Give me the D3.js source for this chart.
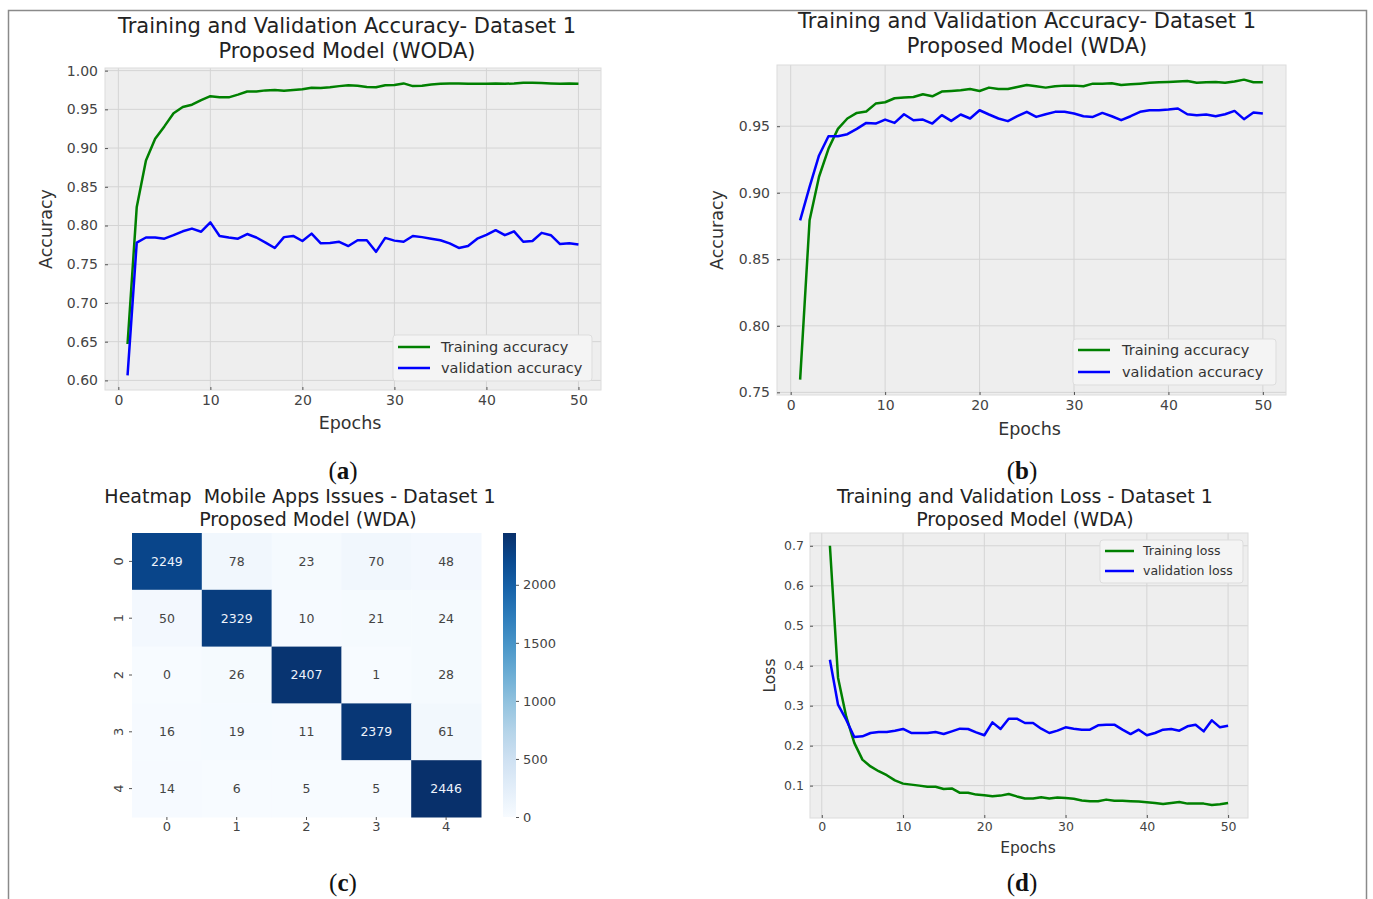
<!DOCTYPE html>
<html>
<head>
<meta charset="utf-8">
<script src="https://cdn.jsdelivr.net/npm/d3@7"></script>
<style>
  body { margin: 0; background: #fff; }
  text { font-family: 'DejaVu Sans', sans-serif; }
</style>
</head>
<body>
<svg id="chart" width="1373" height="899"></svg>
<script>
// epochs 1..50
const epochs = d3.range(1, 51)

// (a) Dataset 1, without data augmentation
const trainAccWoda = [0.647, 0.824, 0.884, 0.912, 0.928, 0.945, 0.953, 0.956, 0.962, 0.967,
  0.9655, 0.9655, 0.969, 0.973, 0.973, 0.9745, 0.975, 0.974, 0.975, 0.976,
  0.978, 0.9775, 0.9785, 0.98, 0.981, 0.9805, 0.979, 0.9785, 0.981, 0.9815,
  0.9835, 0.98, 0.9805, 0.982, 0.983, 0.9835, 0.9835, 0.983, 0.983, 0.983,
  0.9835, 0.983, 0.9835, 0.9845, 0.9845, 0.984, 0.9835, 0.983, 0.9835, 0.983]
const valAccWoda = [0.6065, 0.778, 0.7845, 0.7845, 0.783, 0.7875, 0.7925, 0.796, 0.792, 0.804,
  0.7865, 0.7845, 0.783, 0.789, 0.7845, 0.778, 0.771, 0.785, 0.7865, 0.780,
  0.7895, 0.777, 0.7775, 0.779, 0.7735, 0.781, 0.781, 0.766, 0.784, 0.7805,
  0.779, 0.7865, 0.785, 0.783, 0.781, 0.777, 0.771, 0.7735, 0.783, 0.788,
  0.794, 0.7875, 0.7925, 0.779, 0.780, 0.7905, 0.7875, 0.776, 0.777, 0.7755]

// (b) Dataset 1, with data augmentation
const trainAccWda = [0.7595, 0.8793, 0.912, 0.933, 0.948, 0.9558, 0.960, 0.961, 0.967, 0.968,
  0.971, 0.9715, 0.972, 0.974, 0.9725, 0.976, 0.9765, 0.977, 0.978, 0.9765,
  0.979, 0.978, 0.978, 0.9795, 0.981, 0.980, 0.979, 0.980, 0.9805, 0.9805,
  0.980, 0.982, 0.982, 0.9823, 0.981, 0.9815, 0.982, 0.9826, 0.983, 0.9833,
  0.9836, 0.984, 0.9826, 0.983, 0.9833, 0.9826, 0.9836, 0.985, 0.983, 0.983]
const valAccWda = [0.8793, 0.9044, 0.928, 0.9425, 0.9425, 0.944, 0.948, 0.9525, 0.952, 0.955,
  0.9525, 0.959, 0.9545, 0.955, 0.952, 0.9583, 0.954, 0.9588, 0.9558, 0.962,
  0.9588, 0.9558, 0.9538, 0.9575, 0.9608, 0.957, 0.959, 0.9608, 0.9608, 0.9595,
  0.9575, 0.957, 0.960, 0.9575, 0.9545, 0.9575, 0.9608, 0.962, 0.962, 0.9625,
  0.9633, 0.959, 0.9583, 0.9588, 0.9575, 0.959, 0.9615, 0.9553, 0.9603, 0.9595]

// (d) loss, with data augmentation
const trainLossWda = [0.70, 0.37, 0.273, 0.207, 0.165, 0.148, 0.136, 0.126, 0.113, 0.105,
  0.1025, 0.10, 0.097, 0.097, 0.0917, 0.093, 0.082, 0.082, 0.0775, 0.076,
  0.0733, 0.075, 0.079, 0.073, 0.068, 0.068, 0.071, 0.068, 0.070, 0.069,
  0.067, 0.063, 0.061, 0.061, 0.065, 0.062, 0.062, 0.061, 0.060, 0.0583,
  0.0567, 0.054, 0.0567, 0.059, 0.055, 0.055, 0.055, 0.0517, 0.0533, 0.0567]
const valLossWda = [0.415, 0.3025, 0.265, 0.2217, 0.2233, 0.2317, 0.234, 0.234, 0.2375, 0.2417,
  0.2317, 0.2317, 0.2317, 0.234, 0.229, 0.2358, 0.2425, 0.2417, 0.2333, 0.226,
  0.2583, 0.2417, 0.2675, 0.2675, 0.2567, 0.2567, 0.2425, 0.2317, 0.2375, 0.2458,
  0.2425, 0.24, 0.24, 0.2508, 0.2525, 0.2525, 0.24, 0.229, 0.24, 0.226,
  0.2317, 0.24, 0.2417, 0.2375, 0.2483, 0.2525, 0.2358, 0.2633, 0.2458, 0.250]

// (c) confusion matrix
const classes = ['0', '1', '2', '3', '4']
const confusion = [
  [2249, 78, 23, 70, 48],
  [50, 2329, 10, 21, 24],
  [0, 26, 2407, 1, 28],
  [16, 19, 11, 2379, 61],
  [14, 6, 5, 5, 2446]
]
const colorbarTicks = [0, 500, 1000, 1500, 2000]

const xTicks = [0, 10, 20, 30, 40, 50]

let svg = d3.select('#chart')
svg.append('rect').attr('width', 1373).attr('height', 899).attr('fill', '#fff')

// page frame
svg.append('path')
  .attr('d', 'M8.5,899V10.5H1366.5V899')
  .attr('fill', 'none')
  .attr('stroke', '#8a8a8a')
  .attr('stroke-width', 1.5)

function linePanel (o) {
  let g = svg.append('g')
  let x = d3.scaleLinear().domain([-1.45, 52.45]).range([o.left, o.right])
  let y = d3.scaleLinear().domain(o.yDomain).range([o.bottom, o.top])

  g.append('rect')
    .attr('x', o.left).attr('y', o.top)
    .attr('width', o.right - o.left).attr('height', o.bottom - o.top)
    .attr('fill', '#eeeeee')

  // grid
  g.selectAll('.gx').data(xTicks).join('line')
    .attr('x1', d => x(d)).attr('x2', d => x(d))
    .attr('y1', o.top).attr('y2', o.bottom)
    .attr('stroke', '#d4d4d4').attr('stroke-width', 1)
  g.selectAll('.gy').data(o.yTicks).join('line')
    .attr('x1', o.left).attr('x2', o.right)
    .attr('y1', d => y(d)).attr('y2', d => y(d))
    .attr('stroke', '#d4d4d4').attr('stroke-width', 1)

  g.append('rect')
    .attr('x', o.left).attr('y', o.top)
    .attr('width', o.right - o.left).attr('height', o.bottom - o.top)
    .attr('fill', 'none').attr('stroke', '#dcdcdc')

  let xAxis = g.append('g')
    .attr('transform', 'translate(0,' + o.bottom + ')')
    .call(d3.axisBottom(x).tickValues(xTicks).tickSize(-3).tickPadding(o.xPad))
  let yAxis = g.append('g')
    .attr('transform', 'translate(' + o.left + ',0)')
    .call(d3.axisLeft(y).tickValues(o.yTicks).tickFormat(d3.format(o.yFormat)).tickSize(-3).tickPadding(o.yPad))
  for (let ax of [xAxis, yAxis]) {
    ax.select('.domain').remove()
    ax.selectAll('line').attr('stroke', '#555')
    ax.selectAll('text')
      .attr('fill', '#444')
      .style('font-family', 'DejaVu Sans')
      .style('font-size', o.tickSize + 'px')
  }

  let line = d3.line().x((d, i) => x(epochs[i])).y(d => y(d))
  g.append('path').datum(o.train).attr('d', line)
    .attr('fill', 'none').attr('stroke', '#008000').attr('stroke-width', 2.5)
    .attr('stroke-linejoin', 'round')
  g.append('path').datum(o.val).attr('d', line)
    .attr('fill', 'none').attr('stroke', '#0000ff').attr('stroke-width', 2.5)
    .attr('stroke-linejoin', 'round')

  // legend
  let lg = o.legend
  g.append('rect')
    .attr('x', lg.x).attr('y', lg.y).attr('width', lg.w).attr('height', lg.h)
    .attr('rx', 3)
    .attr('fill', '#f4f4f4').attr('stroke', '#dddddd')
  let items = [{name: lg.names[0], color: '#008000'}, {name: lg.names[1], color: '#0000ff'}]
  items.forEach(function (it, i) {
    let cy = lg.y + lg.first + i * lg.step
    g.append('line')
      .attr('x1', lg.x + 5).attr('x2', lg.x + 5 + lg.len)
      .attr('y1', cy).attr('y2', cy)
      .attr('stroke', it.color).attr('stroke-width', 2.5)
    g.append('text')
      .attr('x', lg.x + lg.textX).attr('y', cy)
      .attr('dy', '0.35em')
      .attr('fill', '#333')
      .style('font-size', lg.font + 'px')
      .text(it.name)
  })

  // labels
  g.append('text')
    .attr('x', (o.left + o.right) / 2 + o.xLabelShift).attr('y', o.xLabelY)
    .attr('text-anchor', 'middle').attr('fill', '#333')
    .style('font-size', o.labelSize + 'px')
    .text('Epochs')
  g.append('text')
    .attr('transform', 'translate(' + o.yLabelX + ',' + (o.top + o.bottom) / 2 + ') rotate(-90)')
    .attr('text-anchor', 'middle').attr('fill', '#333')
    .style('font-size', o.labelSize + 'px')
    .text(o.yLabel)
}

function title (lines, cx, y0, size, gap) {
  lines.forEach(function (t, i) {
    svg.append('text')
      .attr('x', cx).attr('y', y0 + i * gap)
      .attr('text-anchor', 'middle').attr('fill', '#222')
      .style('font-size', size + 'px')
      .style('white-space', 'pre')
      .text(t)
  })
}

function subLabel (letter, cx, y) {
  let t = svg.append('text')
    .attr('x', cx).attr('y', y)
    .attr('text-anchor', 'middle').attr('fill', '#111')
    .style('font-family', 'Liberation Serif')
    .style('font-size', '25px')
  t.append('tspan').text('(')
  t.append('tspan').style('font-weight', 'bold').text(letter)
  t.append('tspan').text(')')
}

linePanel({
  left: 105, right: 601, top: 68, bottom: 390,
  yDomain: [0.5876, 1.0034],
  yTicks: [0.60, 0.65, 0.70, 0.75, 0.80, 0.85, 0.90, 0.95, 1.00],
  yFormat: '.2f', tickSize: 14, xPad: 5, yPad: 7,
  train: trainAccWoda, val: valAccWoda,
  legend: {x: 393, y: 335, w: 199, h: 46, first: 12, step: 21, len: 32, textX: 48, font: 14.5,
    names: ['Training accuracy', 'validation accuracy']},
  labelSize: 17.5, xLabelY: 429, xLabelShift: -3, yLabelX: 52, yLabel: 'Accuracy'
})
title(['Training and Validation Accuracy- Dataset 1', 'Proposed Model (WODA)'], 347, 33, 21, 25)
subLabel('a', 343, 479)

linePanel({
  left: 777, right: 1286, top: 65, bottom: 395,
  yDomain: [0.748, 0.996],
  yTicks: [0.75, 0.80, 0.85, 0.90, 0.95],
  yFormat: '.2f', tickSize: 14, xPad: 5, yPad: 7,
  train: trainAccWda, val: valAccWda,
  legend: {x: 1073, y: 339, w: 203, h: 46, first: 11, step: 22, len: 32, textX: 49, font: 14.5,
    names: ['Training accuracy', 'validation accuracy']},
  labelSize: 17.5, xLabelY: 435, xLabelShift: -2, yLabelX: 723, yLabel: 'Accuracy'
})
title(['Training and Validation Accuracy- Dataset 1', 'Proposed Model (WDA)'], 1027, 28, 21, 25)
subLabel('b', 1022, 479)

linePanel({
  left: 810, right: 1248, top: 533, bottom: 818,
  yDomain: [0.019, 0.732],
  yTicks: [0.1, 0.2, 0.3, 0.4, 0.5, 0.6, 0.7],
  yFormat: '.1f', tickSize: 12.5, xPad: 4, yPad: 6,
  train: trainLossWda, val: valLossWda,
  legend: {x: 1100, y: 540, w: 143, h: 43, first: 11, step: 20, len: 29, textX: 43, font: 12.5,
    names: ['Training loss', 'validation loss']},
  labelSize: 15.5, xLabelY: 853, xLabelShift: -1, yLabelX: 775, yLabel: 'Loss'
})
title(['Training and Validation Loss - Dataset 1', 'Proposed Model (WDA)'], 1025, 503, 19, 23)
subLabel('d', 1022, 891)

// (c) heatmap
{
  let g = svg.append('g')
  let x = d3.scaleBand().domain(classes).range([132, 481])
  let y = d3.scaleBand().domain(classes).range([533, 817])
  let vmax = d3.max(confusion.flat())
  let color = d3.scaleSequential(d3.interpolateBlues).domain([0, vmax])
  let cells = []
  confusion.forEach((row, i) => row.forEach((v, j) => cells.push({r: classes[i], c: classes[j], v: v})))

  g.selectAll('rect.cell').data(cells).join('rect')
    .attr('class', 'cell')
    .attr('x', d => x(d.c)).attr('y', d => y(d.r))
    .attr('width', x.bandwidth() + 0.5).attr('height', y.bandwidth() + 0.5)
    .attr('fill', d => color(d.v))
  g.selectAll('text.val').data(cells).join('text')
    .attr('class', 'val')
    .attr('x', d => x(d.c) + x.bandwidth() / 2)
    .attr('y', d => y(d.r) + y.bandwidth() / 2)
    .attr('dy', '0.35em').attr('text-anchor', 'middle')
    .attr('fill', d => d.v > vmax * 0.5 ? '#eef3fb' : '#444')
    .style('font-size', '12.5px')
    .text(d => d.v)

  let xAxis = g.append('g').attr('transform', 'translate(0,817)')
    .call(d3.axisBottom(x).tickSize(3).tickPadding(2))
  let yAxis = g.append('g').attr('transform', 'translate(132,0)')
    .call(d3.axisLeft(y).tickSize(3).tickPadding(5))
  yAxis.selectAll('.tick text')
    .attr('x', -8).attr('y', 0).attr('dy', '0.35em')
    .attr('text-anchor', 'middle')
    .attr('transform', 'rotate(-90,-8,0) translate(0,-6)')
  for (let ax of [xAxis, yAxis]) {
    ax.select('.domain').remove()
    ax.selectAll('line').attr('stroke', '#555')
    ax.selectAll('text').attr('fill', '#444')
      .style('font-family', 'DejaVu Sans').style('font-size', '13px')
  }

  // colorbar
  let cb = d3.scaleLinear().domain([0, vmax]).range([817, 533])
  let defs = svg.append('defs')
  let grad = defs.append('linearGradient').attr('id', 'blues')
    .attr('x1', 0).attr('y1', 1).attr('x2', 0).attr('y2', 0)
  d3.range(0, 1.001, 0.1).forEach(t => grad.append('stop')
    .attr('offset', t).attr('stop-color', d3.interpolateBlues(t)))
  g.append('rect')
    .attr('x', 503).attr('y', 533).attr('width', 13).attr('height', 284)
    .attr('fill', 'url(#blues)')
  let cbAxis = g.append('g').attr('transform', 'translate(516,0)')
    .call(d3.axisRight(cb).tickValues(colorbarTicks).tickFormat(d3.format('d')).tickSize(3).tickPadding(4))
  cbAxis.select('.domain').remove()
  cbAxis.selectAll('line').attr('stroke', '#555')
  cbAxis.selectAll('text').attr('fill', '#444')
    .style('font-family', 'DejaVu Sans').style('font-size', '13px')
}
title(['Heatmap  Mobile Apps Issues - Dataset 1'], 300, 503, 19, 0)
title(['Proposed Model (WDA)'], 308, 526, 19, 0)
subLabel('c', 343, 891)
</script>
</body>
</html>
